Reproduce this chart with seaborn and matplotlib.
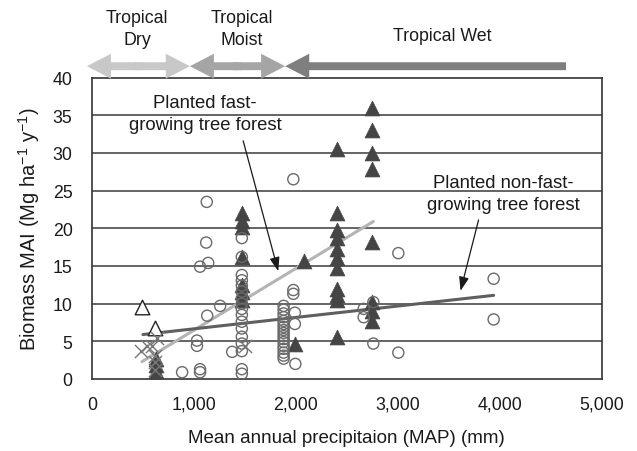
import matplotlib
matplotlib.use('Agg')
import matplotlib.pyplot as plt
import numpy as np
import pandas as pd
import seaborn as sns

# planted non-fast-growing tree forest (open circles)
nonfast_x = [884, 1060, 1060, 1030, 1030, 1130, 1257, 1060, 1140, 1120, 1126, 1375,
             1470, 1470, 1470, 1470, 1470, 1470, 1470, 1470, 1470, 1470, 1470, 1470, 1470, 1470, 1470, 1470, 1470,
             1880, 1880, 1880, 1880, 1880, 1880, 1880, 1880, 1880, 1880, 1880, 1880, 1880, 1880, 1880, 1880, 1880,
             1975, 1975, 1975, 1990, 1990, 1995,
             2665, 2665, 2760, 2760, 3005, 3005, 3940, 3940]
nonfast_y = [0.9, 1.3, 0.9, 5.1, 4.4, 8.4, 9.7, 14.9, 15.4, 18.1, 23.5, 3.6,
             18.7, 16.2, 13.8, 13.1, 12.4, 11.6, 10.7, 10.0, 9.3, 8.5, 7.6, 6.7, 5.6, 4.7, 3.7, 1.3, 0.7,
             9.7, 9.2, 8.7, 8.2, 7.7, 7.3, 6.9, 6.5, 6.1, 5.7, 5.3, 4.9, 4.4, 4.0, 3.5, 3.1, 2.7,
             26.5, 11.8, 11.3, 8.8, 7.3, 2.0,
             9.3, 8.2, 10.2, 4.7, 16.7, 3.5, 13.3, 7.9]

# planted fast-growing tree forest (filled triangles)
fast_x = [630, 630, 630, 630,
          1470, 1470, 1470, 1470, 1470, 1470, 1470,
          2083, 1990,
          2400, 2400, 2400, 2400, 2400, 2400, 2400, 2400, 2400, 2400, 2400,
          2750, 2750, 2750, 2750, 2750, 2750, 2750, 2750]
fast_y = [0.2, 1.0, 1.8, 2.6,
          22.0, 21.0, 20.2, 16.2, 12.5, 11.5, 10.5,
          15.6, 4.7,
          30.5, 22.0, 19.8, 18.7, 17.3, 16.0, 14.7, 12.0, 11.2, 10.5, 5.6,
          36.0, 33.0, 30.0, 27.8, 18.2, 10.2, 9.0, 7.7]

# other points (open triangles and crosses)
open_tri_x = [490, 620]
open_tri_y = [9.5, 6.8]
cross_x = [476, 540, 590, 640, 620, 620, 620, 1500]
cross_y = [3.7, 4.4, 4.4, 5.5, 3.1, 2.2, 1.2, 4.4]

# fitted lines
fast_fit_x = [490, 2760]
fast_fit_y = [2.3, 20.9]
nonfast_fit_x = [500, 3940]
nonfast_fit_y = [5.9, 11.1]

# climate zones along the top (mm)
zone_names = ['Tropical\nDry', 'Tropical\nMoist', 'Tropical Wet']
zone_start = [-50, 960, 1895]
zone_end = [960, 1895, 4650]
zone_colors = ['#c8c8c8', '#a5a5a5', '#7f7f7f']

sns.set_theme(style='white')
plt.rcParams['font.family'] = ['Liberation Sans', 'DejaVu Sans']
plt.rcParams['mathtext.fontset'] = 'custom'
plt.rcParams['mathtext.rm'] = 'Liberation Sans'
plt.rcParams['mathtext.default'] = 'regular'

fig = plt.figure(figsize=(6.37, 4.52), dpi=100)
ax = fig.add_axes([0.1444, 0.1593, 0.8002, 0.667])

for yv in range(5, 40, 5):
    ax.axhline(yv, color='#3a3a3a', lw=1.1, zorder=1)

sns.lineplot(x=fast_fit_x, y=fast_fit_y, color='#b4b4b4', lw=2.2, sort=False, ax=ax, zorder=3)
sns.lineplot(x=nonfast_fit_x, y=nonfast_fit_y, color='#5f5f5f', lw=2.2, sort=False, ax=ax, zorder=3)

sns.scatterplot(x=fast_x, y=fast_y, marker='^', s=115, color='#454545', edgecolor='#454545',
                linewidth=0.5, ax=ax, zorder=4)
sns.scatterplot(x=nonfast_x, y=nonfast_y, marker='o', s=64, facecolor='none', edgecolor='#6a6a6a',
                linewidth=1.0, ax=ax, zorder=5)
sns.scatterplot(x=open_tri_x, y=open_tri_y, marker='^', s=110, facecolor='white', edgecolor='#222222',
                linewidth=1.0, ax=ax, zorder=5)
sns.scatterplot(x=cross_x, y=cross_y, marker='x', s=90, color='#777777', linewidth=1.0, ax=ax, zorder=5)

ax.set_xlim(0, 5000)
ax.set_ylim(0, 40)
ax.set_xticks(range(0, 5001, 1000))
ax.set_xticklabels([f'{v:,}' for v in range(0, 5001, 1000)])
ax.set_yticks(range(0, 41, 5))
ax.tick_params(axis='x', direction='in', length=5, width=1, color='#333333', pad=12, labelsize=12.8)
ax.tick_params(axis='y', length=0, pad=14, labelsize=12.8)
ax.tick_params(colors='#1a1a1a', which='both')
for sp in ax.spines.values():
    sp.set_color('#333333')
    sp.set_linewidth(1.2)

ax.set_xlabel('Mean annual precipitaion (MAP) (mm)', fontsize=13.5, labelpad=12, color='#1a1a1a')
ax.set_ylabel(r'Biomass MAI (Mg ha$^{-1}$ y$^{-1}$)', fontsize=14.5, labelpad=8, color='#1a1a1a')

# climate zone arrows above the plot
bar_y = 41.5
for i, (a, b, c) in enumerate(zip(zone_start, zone_end, zone_colors)):
    mid = (a + b) / 2
    if i < 2:
        # two overlapping halves make a double-headed arrow
        ax.arrow(mid + 40, bar_y, a - mid - 40, 0, width=1.05, head_width=3.3, head_length=236,
                 length_includes_head=True, color=c, lw=0, clip_on=False, zorder=6 + i)
        ax.arrow(mid - 40, bar_y, b - mid + 40, 0, width=1.05, head_width=3.3, head_length=236,
                 length_includes_head=True, color=c, lw=0, clip_on=False, zorder=6 + i)
    else:
        ax.arrow(b, bar_y, a - b, 0, width=1.05, head_width=3.3, head_length=236,
                 length_includes_head=True, color=c, lw=0, clip_on=False, zorder=6 + i)

ax.text(442, 46.5, zone_names[0], ha='center', va='center', fontsize=12.8, color='#1a1a1a',
        linespacing=1.4)
ax.text(1473, 46.5, zone_names[1], ha='center', va='center', fontsize=12.8, color='#1a1a1a',
        linespacing=1.4)
ax.text(3438, 45.6, zone_names[2], ha='center', va='center', fontsize=12.8, color='#1a1a1a')

ax.text(1110, 35.2, 'Planted fast-\ngrowing tree forest', ha='center', va='center', fontsize=13.3,
        color='#1a1a1a', linespacing=1.4)
ax.annotate('', xy=(1827, 14.3), xytext=(1483, 31.6),
            arrowprops=dict(arrowstyle='-|>,head_length=0.7,head_width=0.25', color='#1a1a1a', lw=0.9,
                            shrinkA=0, shrinkB=0))
ax.text(4037, 24.6, 'Planted non-fast-\ngrowing tree forest', ha='center', va='center', fontsize=13.3,
        color='#1a1a1a', linespacing=1.4)
ax.annotate('', xy=(3615, 11.7), xytext=(3792, 21.1),
            arrowprops=dict(arrowstyle='-|>,head_length=0.7,head_width=0.25', color='#1a1a1a', lw=0.9,
                            shrinkA=0, shrinkB=0))

fig.savefig('out.png', dpi=100)
